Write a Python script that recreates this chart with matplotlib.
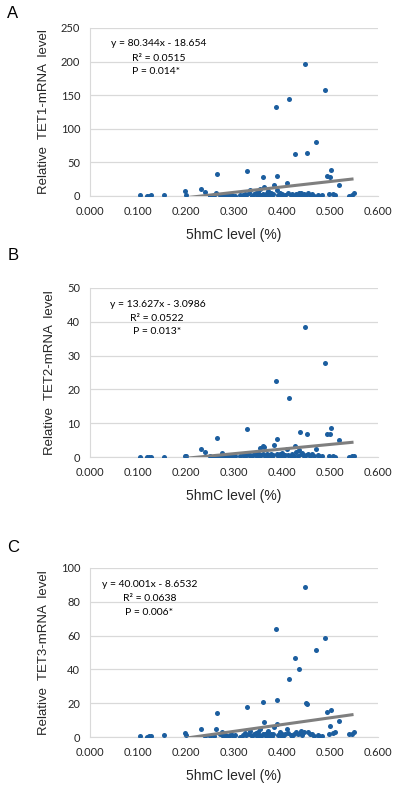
import matplotlib
matplotlib.use('Agg')
from matplotlib import pyplot as plt
import numpy as np

# 5hmC level (%) per sample, shared by all three panels
hmc = [0.105, 0.118, 0.122, 0.127, 0.154, 0.197, 0.201, 0.232, 0.239, 0.250,
       0.258, 0.262, 0.264, 0.270, 0.274, 0.278, 0.282, 0.286, 0.290, 0.294,
       0.298, 0.302, 0.312, 0.318, 0.322, 0.326, 0.328, 0.332, 0.334, 0.338,
       0.342, 0.345, 0.348, 0.350, 0.352, 0.355, 0.357, 0.360, 0.361, 0.363,
       0.365, 0.367, 0.369, 0.371, 0.373, 0.375, 0.378, 0.380, 0.382, 0.384,
       0.387, 0.389, 0.390, 0.392, 0.395, 0.398, 0.400, 0.403, 0.406, 0.410,
       0.413, 0.415, 0.418, 0.421, 0.424, 0.427, 0.430, 0.433, 0.436, 0.438,
       0.440, 0.442, 0.445, 0.447, 0.450, 0.453, 0.455, 0.458, 0.462, 0.466,
       0.470, 0.474, 0.478, 0.484, 0.489, 0.493, 0.497, 0.500, 0.503, 0.506,
       0.510, 0.518, 0.540, 0.545, 0.549]

tet1 = [1.0, 0.3, 0.5, 0.8, 0.8, 7.5, 2.0, 10.0, 6.5, 0.5,
        1.0, 4.5, 32.0, 2.0, 0.8, 1.5, 0.5, 1.0, 0.3, 1.2,
        0.6, 0.4, 1.5, 0.8, 3.0, 2.0, 37.0, 5.0, 9.0, 0.5,
        2.5, 4.0, 1.0, 6.0, 0.8, 11.0, 2.0, 3.5, 28.0, 13.0,
        1.5, 0.5, 4.0, 7.0, 2.5, 0.8, 5.0, 1.0, 3.0, 16.0,
        132.0, 30.0, 9.0, 2.0, 5.0, 1.0, 3.5, 0.5, 2.0, 20.0,
        4.0, 144.0, 1.5, 3.0, 0.5, 63.0, 2.5, 1.0, 5.0, 2.0,
        4.0, 0.8, 3.0, 197.0, 2.0, 64.0, 4.0, 1.5, 3.0, 0.5,
        80.0, 1.0, 0.5, 1.0, 157.0, 30.0, 3.0, 28.0, 39.0, 2.5,
        1.0, 16.0, 0.5, 2.0, 4.5]

tet2 = [0.1, 0.0, 0.1, 0.0, 0.0, 0.2, 0.2, 2.4, 1.4, 0.3,
        0.1, 0.3, 5.6, 0.1, 1.3, 0.5, 0.2, 0.0, 0.4, 0.2,
        0.1, 0.3, 0.2, 0.5, 0.3, 0.6, 8.3, 1.0, 0.4, 0.2,
        1.0, 0.5, 0.3, 1.2, 0.1, 2.8, 0.5, 0.8, 3.4, 3.0,
        0.4, 0.2, 1.0, 0.6, 0.3, 0.5, 0.9, 0.2, 0.7, 3.5,
        22.6, 5.4, 1.0, 0.4, 0.8, 0.3, 1.1, 0.2, 0.6, 2.5,
        0.5, 17.5, 0.3, 0.9, 0.2, 3.3, 1.5, 0.4, 2.0, 7.5,
        0.8, 1.2, 0.3, 38.6, 0.5, 6.8, 1.0, 0.2, 0.8, 0.3,
        2.3, 0.5, 0.2, 0.3, 27.7, 6.7, 0.4, 6.8, 8.6, 0.2,
        0.1, 4.9, 0.1, 0.2, 0.3]

tet3 = [0.8, 0.0, 0.3, 0.5, 1.0, 2.5, 1.0, 5.0, 0.5, 0.3,
        0.8, 5.0, 14.4, 1.5, 3.0, 0.5, 1.0, 0.3, 0.8, 1.5,
        0.5, 1.0, 0.2, 1.2, 2.5, 1.0, 17.5, 2.0, 3.5, 0.8,
        1.5, 2.5, 0.5, 3.0, 1.0, 4.5, 0.3, 2.0, 21.0, 9.0,
        1.5, 0.5, 2.5, 3.5, 1.0, 0.8, 2.0, 0.5, 1.5, 6.0,
        64.0, 22.0, 7.5, 1.0, 3.0, 0.5, 2.0, 0.3, 1.5, 5.0,
        2.5, 34.3, 1.0, 0.5, 2.0, 46.7, 3.0, 1.5, 40.4, 2.5,
        3.5, 1.0, 3.0, 89.0, 20.0, 19.5, 3.0, 2.0, 1.5, 0.5,
        51.7, 1.0, 0.8, 0.5, 58.6, 14.6, 2.0, 6.5, 16.0, 2.5,
        3.0, 9.5, 1.5, 2.0, 2.8]

# linear trend lines as printed on the figure
slopes = [80.344, 13.627, 40.001]
intercepts = [-18.654, -3.0986, -8.6532]
r2_text = ['0.0515', '0.0522', '0.0638']
p_text = ['0.014*', '0.013*', '0.006*']
eq_text = ['y = 80.344x - 18.654', 'y = 13.627x - 3.0986', 'y = 40.001x - 8.6532']
genes = ['TET1', 'TET2', 'TET3']
letters = ['A', 'B', 'C']
y_max = [250, 50, 100]
y_step = [50, 10, 20]

# layout, pixels of a 394x788 figure
ax_boxes = [(90, 28, 378, 196), (90, 288, 378, 457), (90, 568, 378, 737)]
letter_y = [13, 255, 547]
text_pos = [[(0.073, 0.905), (0.146, 0.821), (0.146, 0.744)],
            [(0.070, 0.905), (0.139, 0.822), (0.149, 0.740)],
            [(0.042, 0.900), (0.115, 0.817), (0.120, 0.734)]]

W, H = 394.0, 788.0
fig = plt.figure(figsize=(W / 100, H / 100), dpi=100)
tick_font = 'Lato'
label_font = 'Liberation Sans'

for i in range(3):
	x0, y0, x1, y1 = ax_boxes[i]
	ax = fig.add_axes([x0 / W, 1 - y1 / H, (x1 - x0) / W, (y1 - y0) / H])
	ys = [tet1, tet2, tet3][i]

	ax.scatter(hmc, ys, s=13, color='#1c5e9f', zorder=3, linewidths=0)
	xl = np.array([min(hmc), max(hmc)])
	ax.plot(xl, slopes[i] * xl + intercepts[i], color='#7f7f7f', lw=2.2,
		zorder=4, solid_capstyle='butt')

	ax.set_xlim(0, 0.6)
	ax.set_ylim(0, y_max[i])
	ax.set_xticks(np.arange(0, 0.61, 0.1))
	ax.set_xticklabels(['%.3f' % v for v in np.arange(0, 0.61, 0.1)])
	ax.set_yticks(np.arange(0, y_max[i] + 1, y_step[i]))
	ax.tick_params(length=0, labelsize=8, pad=7, colors='#262626')
	for lab in ax.get_xticklabels() + ax.get_yticklabels():
		lab.set_family(tick_font)
	ax.grid(axis='y', color='#d9d9d9', lw=0.9)
	ax.set_axisbelow(True)
	for side in ['top', 'right']:
		ax.spines[side].set_visible(False)
	ax.spines['left'].set_color('#d9d9d9')
	ax.spines['bottom'].set_color('#d9d9d9')

	ax.set_xlabel('5hmC level (%)', fontsize=10, family=label_font, labelpad=8,
		color='#262626')
	ax.set_ylabel('Relative  %s-mRNA  level' % genes[i], fontsize=9.5,
		family=label_font, labelpad=8, color='#262626')

	tp = text_pos[i]
	ax.text(tp[0][0], tp[0][1], eq_text[i], transform=ax.transAxes,
		fontsize=7.5, family=tick_font, va='center', ha='left')
	ax.text(tp[1][0], tp[1][1], 'R\u00b2 = ' + r2_text[i], transform=ax.transAxes,
		fontsize=7.5, family=tick_font, va='center', ha='left')
	ax.text(tp[2][0], tp[2][1], 'P = ' + p_text[i], transform=ax.transAxes,
		fontsize=7.5, family=tick_font, va='center', ha='left')

	fig.text(13 / W, 1 - letter_y[i] / H, letters[i], fontsize=12,
		family=label_font, ha='center', va='center')

fig.savefig('out.png', dpi=100)
